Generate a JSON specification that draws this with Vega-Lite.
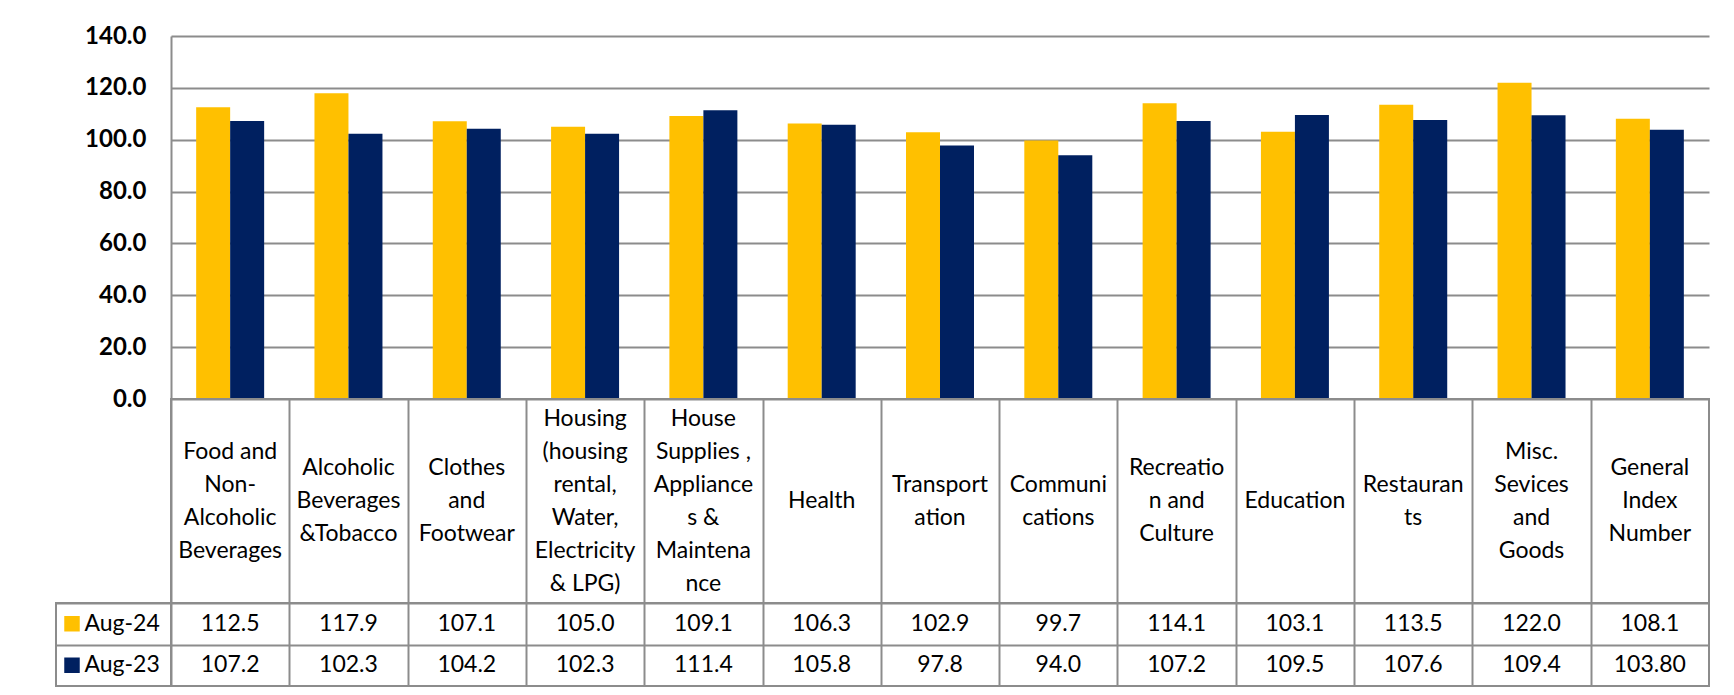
{
  "$schema": "https://vega.github.io/schema/vega-lite/v6.json",
  "padding": {"left": 55, "top": 24, "right": 0, "bottom": 0},
  "background": "white",
  "datasets": {
    "blank": [{}],
    "series": [{"series": "Aug-24"}, {"series": "Aug-23"}],
    "heads": [
      {"cat": "Food and Non-Alcoholic Beverages", "lines": ["Food and", "Non-", "Alcoholic", "Beverages"]},
      {"cat": "Alcoholic Beverages &Tobacco", "lines": ["Alcoholic", "Beverages", "&Tobacco"]},
      {"cat": "Clothes and Footwear", "lines": ["Clothes", "and", "Footwear"]},
      {"cat": "Housing (housing rental, Water, Electricity & LPG)", "lines": ["Housing", "(housing", "rental,", "Water,", "Electricity", "& LPG)"]},
      {"cat": "House Supplies , Appliances & Maintenance", "lines": ["House", "Supplies ,", "Appliance", "s &", "Maintena", "nce"]},
      {"cat": "Health", "lines": ["Health"]},
      {"cat": "Transportation", "lines": ["Transport", "ation"]},
      {"cat": "Communications", "lines": ["Communi", "cations"]},
      {"cat": "Recreation and Culture", "lines": ["Recreatio", "n and", "Culture"]},
      {"cat": "Education", "lines": ["Education"]},
      {"cat": "Restaurants", "lines": ["Restauran", "ts"]},
      {"cat": "Misc. Sevices and Goods", "lines": ["Misc.", "Sevices", "and", "Goods"]},
      {"cat": "General Index Number", "lines": ["General", "Index", "Number"]}
    ],
    "vals": [
      {"cat": "Food and Non-Alcoholic Beverages", "series": "Aug-24", "value": 112.5, "label": "112.5"},
      {"cat": "Alcoholic Beverages &Tobacco", "series": "Aug-24", "value": 117.9, "label": "117.9"},
      {"cat": "Clothes and Footwear", "series": "Aug-24", "value": 107.1, "label": "107.1"},
      {"cat": "Housing (housing rental, Water, Electricity & LPG)", "series": "Aug-24", "value": 105.0, "label": "105.0"},
      {"cat": "House Supplies , Appliances & Maintenance", "series": "Aug-24", "value": 109.1, "label": "109.1"},
      {"cat": "Health", "series": "Aug-24", "value": 106.3, "label": "106.3"},
      {"cat": "Transportation", "series": "Aug-24", "value": 102.9, "label": "102.9"},
      {"cat": "Communications", "series": "Aug-24", "value": 99.7, "label": "99.7"},
      {"cat": "Recreation and Culture", "series": "Aug-24", "value": 114.1, "label": "114.1"},
      {"cat": "Education", "series": "Aug-24", "value": 103.1, "label": "103.1"},
      {"cat": "Restaurants", "series": "Aug-24", "value": 113.5, "label": "113.5"},
      {"cat": "Misc. Sevices and Goods", "series": "Aug-24", "value": 122.0, "label": "122.0"},
      {"cat": "General Index Number", "series": "Aug-24", "value": 108.1, "label": "108.1"},
      {"cat": "Food and Non-Alcoholic Beverages", "series": "Aug-23", "value": 107.2, "label": "107.2"},
      {"cat": "Alcoholic Beverages &Tobacco", "series": "Aug-23", "value": 102.3, "label": "102.3"},
      {"cat": "Clothes and Footwear", "series": "Aug-23", "value": 104.2, "label": "104.2"},
      {"cat": "Housing (housing rental, Water, Electricity & LPG)", "series": "Aug-23", "value": 102.3, "label": "102.3"},
      {"cat": "House Supplies , Appliances & Maintenance", "series": "Aug-23", "value": 111.4, "label": "111.4"},
      {"cat": "Health", "series": "Aug-23", "value": 105.8, "label": "105.8"},
      {"cat": "Transportation", "series": "Aug-23", "value": 97.8, "label": "97.8"},
      {"cat": "Communications", "series": "Aug-23", "value": 94.0, "label": "94.0"},
      {"cat": "Recreation and Culture", "series": "Aug-23", "value": 107.2, "label": "107.2"},
      {"cat": "Education", "series": "Aug-23", "value": 109.5, "label": "109.5"},
      {"cat": "Restaurants", "series": "Aug-23", "value": 107.6, "label": "107.6"},
      {"cat": "Misc. Sevices and Goods", "series": "Aug-23", "value": 109.4, "label": "109.4"},
      {"cat": "General Index Number", "series": "Aug-23", "value": 103.80, "label": "103.80"}
    ]
  },
  "config": {
    "font": "Lato",
    "view": {"stroke": "#8c8c8c", "strokeWidth": 2},
    "axis": {"gridColor": "#8c8c8c", "gridWidth": 2, "gridOpacity": 1, "domainColor": "#8c8c8c", "domainWidth": 2}
  },
  "columns": 2,
  "spacing": 0,
  "bounds": "flush",
  "concat": [
    {
      "data": {"name": "blank"},
      "width": 115, "height": 363,
      "view": {"stroke": null},
      "mark": {"type": "text"},
      "encoding": {"text": {"value": ""}}
    },
    {
      "data": {"name": "vals"},
      "width": 1538, "height": 363,
      "view": {"stroke": null},
      "mark": {"type": "bar"},
      "encoding": {
        "x": {"field": "cat", "type": "nominal", "sort": null,
              "scale": {"domain": ["Food and Non-Alcoholic Beverages", "Alcoholic Beverages &Tobacco", "Clothes and Footwear", "Housing (housing rental, Water, Electricity & LPG)", "House Supplies , Appliances & Maintenance", "Health", "Transportation", "Communications", "Recreation and Culture", "Education", "Restaurants", "Misc. Sevices and Goods", "General Index Number"], "paddingInner": 0, "paddingOuter": 0},
              "axis": null},
        "xOffset": {"field": "series", "type": "nominal", "scale": {"domain": ["Aug-24", "Aug-23"], "paddingInner": 0, "paddingOuter": 0.74}},
        "y": {"field": "value", "type": "quantitative",
              "scale": {"domain": [0, 140], "nice": false},
              "axis": {"values": [0, 20, 40, 60, 80, 100, 120, 140], "format": ".1f", "title": null, "grid": true, "ticks": false, "tickSize": 0, "labelPadding": 25, "labelFontSize": 24, "labelFontWeight": "bold", "labelColor": "#000000", "domain": true}},
        "color": {"field": "series", "type": "nominal", "scale": {"domain": ["Aug-24", "Aug-23"], "range": ["#FFC000", "#002060"]}, "legend": null}
      }
    },
    {
      "data": {"name": "blank"},
      "width": 115, "height": 204,
      "view": {"stroke": null},
      "mark": {"type": "text"},
      "encoding": {"text": {"value": ""}}
    },
    {
      "data": {"name": "heads"},
      "width": 1538, "height": 204,
      "encoding": {
        "x": {"field": "cat", "type": "nominal", "sort": null,
              "scale": {"domain": ["Food and Non-Alcoholic Beverages", "Alcoholic Beverages &Tobacco", "Clothes and Footwear", "Housing (housing rental, Water, Electricity & LPG)", "House Supplies , Appliances & Maintenance", "Health", "Transportation", "Communications", "Recreation and Culture", "Education", "Restaurants", "Misc. Sevices and Goods", "General Index Number"], "paddingInner": 0, "paddingOuter": 0},
              "axis": {"title": null, "labels": false, "ticks": false, "domain": false, "grid": true, "tickBand": "extent"}},
        "text": {"field": "lines"}
      },
      "layer": [
        {"transform": [{"filter": "length(datum.lines) == 1"}],
         "mark": {"type": "text", "fontSize": 23, "lineHeight": 33, "align": "center", "baseline": "middle", "color": "#000000", "dy": 0}},
        {"transform": [{"filter": "length(datum.lines) == 2"}],
         "mark": {"type": "text", "fontSize": 23, "lineHeight": 33, "align": "center", "baseline": "middle", "color": "#000000", "dy": -16.5}},
        {"transform": [{"filter": "length(datum.lines) == 3"}],
         "mark": {"type": "text", "fontSize": 23, "lineHeight": 33, "align": "center", "baseline": "middle", "color": "#000000", "dy": -33}},
        {"transform": [{"filter": "length(datum.lines) == 4"}],
         "mark": {"type": "text", "fontSize": 23, "lineHeight": 33, "align": "center", "baseline": "middle", "color": "#000000", "dy": -49.5}},
        {"transform": [{"filter": "length(datum.lines) == 6"}],
         "mark": {"type": "text", "fontSize": 23, "lineHeight": 33, "align": "center", "baseline": "middle", "color": "#000000", "dy": -82.5}}
      ]
    },
    {
      "data": {"name": "series"},
      "width": 115, "height": 83,
      "encoding": {
        "y": {"field": "series", "type": "nominal", "sort": null,
              "scale": {"domain": ["Aug-24", "Aug-23"], "paddingInner": 0, "paddingOuter": 0},
              "axis": {"title": null, "labels": false, "ticks": false, "domain": false, "grid": true, "tickBand": "extent"}}
      },
      "layer": [
        {
          "mark": {"type": "square", "size": 240, "opacity": 1, "xOffset": -41.5},
          "encoding": {"color": {"field": "series", "type": "nominal", "scale": {"domain": ["Aug-24", "Aug-23"], "range": ["#FFC000", "#002060"]}, "legend": null}}
        },
        {
          "mark": {"type": "text", "align": "left", "baseline": "middle", "fontSize": 23, "xOffset": -29, "color": "#000000"},
          "encoding": {"text": {"field": "series"}}
        }
      ]
    },
    {
      "data": {"name": "vals"},
      "width": 1538, "height": 83,
      "mark": {"type": "text", "fontSize": 23, "baseline": "middle", "color": "#000000"},
      "encoding": {
        "x": {"field": "cat", "type": "nominal", "sort": null,
              "scale": {"domain": ["Food and Non-Alcoholic Beverages", "Alcoholic Beverages &Tobacco", "Clothes and Footwear", "Housing (housing rental, Water, Electricity & LPG)", "House Supplies , Appliances & Maintenance", "Health", "Transportation", "Communications", "Recreation and Culture", "Education", "Restaurants", "Misc. Sevices and Goods", "General Index Number"], "paddingInner": 0, "paddingOuter": 0},
              "axis": {"title": null, "labels": false, "ticks": false, "domain": false, "grid": true, "tickBand": "extent"}},
        "y": {"field": "series", "type": "nominal", "sort": null,
              "scale": {"domain": ["Aug-24", "Aug-23"], "paddingInner": 0, "paddingOuter": 0},
              "axis": {"title": null, "labels": false, "ticks": false, "domain": false, "grid": true, "tickBand": "extent"}},
        "text": {"field": "label"}
      }
    }
  ]
}
